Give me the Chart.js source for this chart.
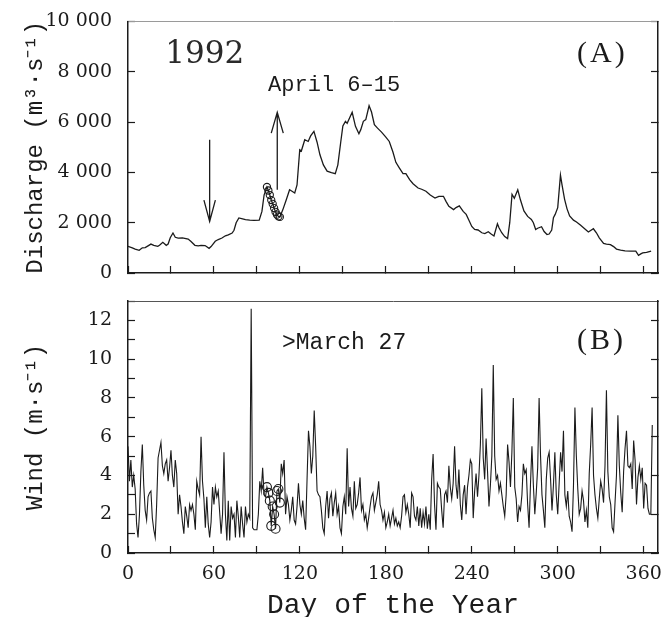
<!DOCTYPE html>
<html><head><meta charset="utf-8">
<script src="https://cdn.jsdelivr.net/npm/chart.js@4.4.1/dist/chart.umd.min.js"></script>
<style>
html,body{margin:0;padding:0;background:#fff;}
#wrap{position:relative;width:669px;height:617px;overflow:hidden;background:#fff;}
canvas{position:absolute;left:0;}
#c1{top:0;} #c2{top:290px;}
</style></head><body>
<div id="wrap"><canvas id="c1" width="669" height="290"></canvas><canvas id="c2" width="669" height="327"></canvas></div>
<script>
// ---- data ----
const dischargeDays = [0,3,5,7.8,10,12,14,16,18,20.8,
 22,24.3,26.7,28,29.5,31.4,33,35,38,42,
 44,46.7,49,51,53.8,56.6,58,60.9,63,65.6,
 68,70,72.7,74,75.5,77.4,80,82,85,88,
 91.6,93.5,95,97,98,99,100,101,102,103,
 104,105,106,108,110.5,112.8,114.5,116.4,118,119.9,
 121,123.4,125.8,127.5,129.8,132,134,136.4,139,142,
 144.7,146.5,148.5,150,151.8,153,156.5,158.8,161.2,162.5,
 164.3,166,168.3,170,172,174.2,177,180,182.4,185,
 187,189.5,192,194,196.6,199,202.5,205,208,211,
 214.3,217,220.2,222,224,227.3,229,231.3,234,236.1,
 238,240,242,244.4,247,249.1,251.5,253.5,255.5,257.9,
 259,260.9,263,265,266.5,268.1,269.7,272.1,274,276.4,
 279,281.6,283,284.6,286,288.7,290.5,292.5,294,295.8,
 297,298.2,300,301.9,303,304.8,306.5,308.3,311,313.1,
 316,319,321.4,324.9,327,329,332,334,336.8,339,
 341,343.9,347,351,354.5,356.4,358,359.3,362,365.2];
const dischargeValues = [1060,1000,950,900,1000,1010,1080,1150,1100,1060,
 1100,1220,1100,1150,1400,1590,1420,1390,1400,1350,
 1250,1100,1080,1100,1090,980,1050,1260,1330,1390,
 1480,1520,1590,1700,2000,2190,2150,2120,2100,2090,
 2100,2450,3100,3420,3280,3100,2900,2750,2580,2430,
 2320,2250,2230,2500,2910,3310,3250,3180,3500,4900,
 4850,5300,5230,5450,5630,5200,4700,4300,4050,3990,
 3950,4300,5200,5850,6030,5950,6390,5830,5540,5700,
 6030,6100,6650,6400,5900,5760,5600,5400,5230,4800,
 4400,4170,3950,3950,3710,3550,3380,3330,3250,3100,
 2980,3050,3050,2850,2650,2520,2600,2670,2450,2330,
 2100,1850,1730,1710,1600,1570,1640,1550,1470,1960,
 1800,1600,1450,1370,2000,3130,2970,3310,2900,2470,
 2250,2130,2000,1730,1780,1840,1650,1530,1550,1710,
 2200,2330,2600,3890,3500,2930,2550,2270,2100,2030,
 1900,1750,1630,1760,1600,1400,1180,1150,1130,1050,
 950,910,880,870,870,700,760,800,820,870];

// daily wind speed, day 0 .. 366
const windValues = [
 5.5,3.7,4.8,3.4,4.0,3.3,1.5,0.8,2.0,4.2,
 5.6,3.5,2.2,1.7,2.9,3.1,3.2,1.8,1.2,0.8,
 2.5,4.9,5.3,5.7,4.5,4.1,4.6,4.8,3.7,4.4,
 5.3,4.0,3.4,4.8,4.1,2.0,3.0,2.4,1.6,1.0,
 2.4,1.9,1.3,2.5,2.2,2.5,2.0,1.2,3.7,3.3,
 3.0,6.0,3.7,2.8,1.3,2.9,1.5,0.8,1.6,3.4,
 2.5,3.4,2.9,3.2,2.1,1.0,2.0,5.2,2.0,0.65,
 2.7,0.65,2.4,1.8,2.0,0.8,2.7,1.9,0.8,2.4,
 1.5,0.8,2.4,1.6,2.0,1.8,12.6,1.3,1.2,1.2,
 1.2,2.0,3.7,3.2,4.4,3.0,2.9,3.4,3.1,2.7,
 1.4,2.4,2.0,1.25,3.2,3.3,2.6,4.6,4.1,4.8,
 2.0,2.9,2.5,1.7,2.2,2.9,1.7,1.5,2.4,3.6,
 2.5,2.0,2.7,1.8,1.2,3.8,6.3,5.5,4.1,5.0,
 7.35,5.5,3.2,3.0,2.9,2.2,1.3,1.0,2.4,3.2,
 1.8,2.8,3.1,1.9,2.6,3.1,2.0,2.4,1.3,1.0,
 2.4,2.9,2.0,5.4,2.4,3.4,2.3,1.9,3.7,2.3,
 2.5,3.1,3.9,2.2,2.5,1.7,2.0,1.3,1.8,2.4,
 2.9,3.1,2.2,2.6,3.0,3.7,2.5,2.2,1.7,2.1,
 1.3,1.6,2.0,1.4,1.8,2.2,1.5,1.8,1.4,1.6,
 1.3,1.9,2.9,3.0,2.1,2.5,2.0,1.3,3.1,2.9,
 1.9,1.7,2.4,1.4,2.3,1.3,2.1,1.5,2.4,1.25,
 2.0,1.2,3.8,5.1,2.5,1.2,3.6,3.4,3.3,2.2,
 1.3,3.0,3.2,2.6,4.5,3.4,2.8,3.6,5.5,3.5,
 2.8,4.3,2.5,1.7,3.0,3.5,2.0,3.4,4.0,4.8,
 4.6,1.8,3.2,4.1,2.9,4.0,5.6,8.5,4.9,3.8,
 5.9,4.2,2.4,3.5,5.0,9.7,5.0,3.8,4.0,3.2,
 3.6,3.0,2.4,1.9,3.0,5.6,4.7,3.4,5.2,8.0,
 3.4,2.8,1.6,2.4,2.2,3.0,4.6,4.1,4.3,2.5,
 1.3,3.6,5.5,3.5,2.0,3.1,4.4,8.0,5.0,3.0,
 2.2,1.3,3.8,4.9,5.2,3.8,2.2,3.5,5.2,3.0,
 2.0,3.6,5.2,4.2,6.3,3.0,2.4,3.2,1.9,1.6,
 1.1,3.5,7.5,5.0,3.3,2.0,2.3,3.2,2.7,1.6,
 2.2,1.3,4.1,5.6,7.5,4.0,3.0,2.3,1.8,2.8,
 3.7,3.3,2.6,4.5,8.4,4.2,2.9,2.5,1.3,1.1,
 2.6,4.0,7.1,4.5,3.1,2.1,4.2,5.4,6.3,4.5,
 4.4,4.6,3.3,5.8,4.8,2.5,3.9,4.5,3.8,4.4,
 2.3,3.6,3.5,2.3,2.0,2.0,6.6];

// April 6-15 marked with circles
const circleDays = [97,98,99,100,101,102,103,104,105,106];
const circleDischarge = [3420,3280,3100,2900,2750,2580,2430,2320,2250,2230];
const circleWind = [3.4,3.1,2.7,1.4,2.4,2.0,1.25,3.2,3.3,2.6];

// tick labels
const dayTickLabels = ['0','60','120','180','240','300','360'];
const dischargeTickLabels = ['0','2 000','4 000','6 000','8 000','10 000'];
const windTickLabels = ['0','2','4','6','8','10','12'];

// ---- styling ----
const INK = '#1b1b1b';
const tickFont = {family: 'DejaVu Serif', size: 19};
const titleFont = {family: 'Liberation Mono', size: 24};

const notesPlugin = {
  id: 'notes',
  afterDatasetsDraw(chart, args, opts) {
    const ctx = chart.ctx, xs = chart.scales.x, ys = chart.scales.y;
    ctx.save();
    ctx.fillStyle = INK; ctx.strokeStyle = INK;
    (opts.texts || []).forEach(t => {
      ctx.font = t.font;
      if ('letterSpacing' in ctx) ctx.letterSpacing = (t.spacing || 0) + 'px';
      ctx.textAlign = 'left'; ctx.textBaseline = 'alphabetic';
      ctx.fillStyle = t.color || INK;
      ctx.fillText(t.text, xs.getPixelForValue(t.x), ys.getPixelForValue(t.y));
    });
    if ('letterSpacing' in ctx) ctx.letterSpacing = '0px';
    ctx.lineWidth = 1.3;
    (opts.arrows || []).forEach(a => {
      const x = xs.getPixelForValue(a.x);
      const y0 = ys.getPixelForValue(a.from), y1 = ys.getPixelForValue(a.to);
      const yw = ys.getPixelForValue(a.wing);
      const dx = xs.getPixelForValue(a.x + a.half) - x;
      ctx.beginPath();
      ctx.moveTo(x, y0); ctx.lineTo(x, y1);
      ctx.moveTo(x - dx, yw); ctx.lineTo(x, y1); ctx.lineTo(x + dx, yw);
      ctx.stroke();
    });
    ctx.restore();
  }
};

function gridOpts() {
  return {drawOnChartArea: false, drawTicks: true, tickLength: -7, color: INK, tickColor: INK, tickWidth: 1.2};
}
function borderOpts(c, w) { return {display: true, color: c || INK, width: w || 1.5}; }
function noPad(s) { s.paddingTop = 0; s.paddingBottom = 0; s.paddingLeft = 0; s.paddingRight = 0; }

function makeScales(cfg) {
  return {
    x: {type: 'linear', position: 'bottom', min: 0, max: 370,
        ticks: {stepSize: 30, includeBounds: false, display: cfg.xLabels, padding: 17,
                font: tickFont, color: INK, maxRotation: 0, autoSkip: false,
                callback: v => { const s = String(v); return dayTickLabels.includes(s) ? s : ''; }},
        grid: gridOpts(), border: borderOpts(),
        title: cfg.xTitle ? {display: true, text: cfg.xTitle, font: {family: 'Liberation Mono', size: 28, lineHeight: 0.8}, color: INK, padding: {top: 0, bottom: 0}} : {display: false},
        afterFit: s => { s.height = cfg.xHeight; noPad(s); }},
    xTop: {type: 'linear', position: 'top', min: 0, max: 370,
        ticks: {display: false}, grid: {display: false}, border: borderOpts(cfg.topColor, 1),
        afterFit: s => { s.height = 0; noPad(s); }},
    y: {type: 'linear', position: 'left', min: 0, max: cfg.yMax,
        ticks: {stepSize: cfg.yStep, includeBounds: false, padding: 23, font: tickFont, color: INK, autoSkip: false,
                callback: cfg.yCallback},
        grid: gridOpts(), border: borderOpts(),
        title: {display: true, text: cfg.yTitle, font: titleFont, color: INK, padding: {top: 21, bottom: 0}},
        afterFit: s => { s.width = 128; noPad(s); }},
    yR: {type: 'linear', position: 'right', min: 0, max: cfg.yMax,
        ticks: {stepSize: cfg.yRStep, includeBounds: false, display: false},
        grid: gridOpts(), border: borderOpts(),
        afterFit: s => { s.width = 0; noPad(s); }}
  };
}

const lineStyle = {borderColor: INK, borderWidth: 1.3, pointRadius: 0, tension: 0, fill: false};
const circleStyle = {showLine: false, pointStyle: 'circle', pointBorderColor: INK,
  pointBackgroundColor: 'rgba(0,0,0,0)', pointBorderWidth: 1.1};

new Chart(document.getElementById('c1'), {
  type: 'line',
  data: {datasets: [
    Object.assign({label: 'Discharge', data: dischargeDays.map((d, i) => ({x: d, y: dischargeValues[i]}))}, lineStyle),
    Object.assign({label: 'April 6–15', data: circleDays.map((d, i) => ({x: d, y: circleDischarge[i]})), pointRadius: 3.6}, circleStyle)
  ]},
  options: {
    responsive: false, animation: false, devicePixelRatio: 1, events: [],
    layout: {padding: {top: 21.5, right: 11, left: 0, bottom: 0}},
    scales: makeScales({xLabels: false, xHeight: 17, yMax: 10000, yStep: 2000, yRStep: 2000, topColor: '#9a9a9a',
      yTitle: 'Discharge (m³·s⁻¹)',
      yCallback: v => dischargeTickLabels[Math.round(v / 2000)] || ''}),
    plugins: {legend: {display: false}, tooltip: {enabled: false},
      notes: {
        texts: [
          {text: '1992', x: 26, y: 8350, font: '31px "DejaVu Serif"', color: '#2a2a2a'},
          {text: '(A)', x: 313.5, y: 8390, font: '30px "Liberation Serif"', spacing: 3},
          {text: 'April 6–15', x: 97.8, y: 7240, font: '22px "Liberation Mono"'}
        ],
        arrows: [
          {x: 57, from: 5300, to: 2050, wing: 2900, half: 4},
          {x: 104.2, from: 3310, to: 6384, wing: 5560, half: 4.2}
        ]
      }}
  },
  plugins: [notesPlugin]
});

new Chart(document.getElementById('c2'), {
  type: 'line',
  data: {datasets: [
    Object.assign({label: 'Wind', data: windValues.map((v, i) => ({x: i, y: v}))}, lineStyle, {borderWidth: 1.1}),
    Object.assign({label: 'April 6–15', data: circleDays.map((d, i) => ({x: d, y: circleWind[i]})), pointRadius: 4.5}, circleStyle)
  ]},
  options: {
    responsive: false, animation: false, devicePixelRatio: 1, events: [],
    layout: {padding: {top: 11, right: 11, left: 0, bottom: 0}},
    scales: makeScales({xLabels: true, xHeight: 64, xTitle: 'Day of the Year', yMax: 13, yStep: 1, yRStep: 2, topColor: '#555',
      yTitle: 'Wind (m·s⁻¹)',
      yCallback: v => (v % 2 === 0 ? (windTickLabels[v / 2] || '') : '')}),
    plugins: {legend: {display: false}, tooltip: {enabled: false},
      notes: {
        texts: [
          {text: '>March 27', x: 107.5, y: 10.5, font: '23px "Liberation Mono"'},
          {text: '(B)', x: 313.5, y: 10.5, font: '30px "Liberation Serif"', spacing: 3}
        ]
      }}
  },
  plugins: [notesPlugin]
});
</script>
</body></html>
